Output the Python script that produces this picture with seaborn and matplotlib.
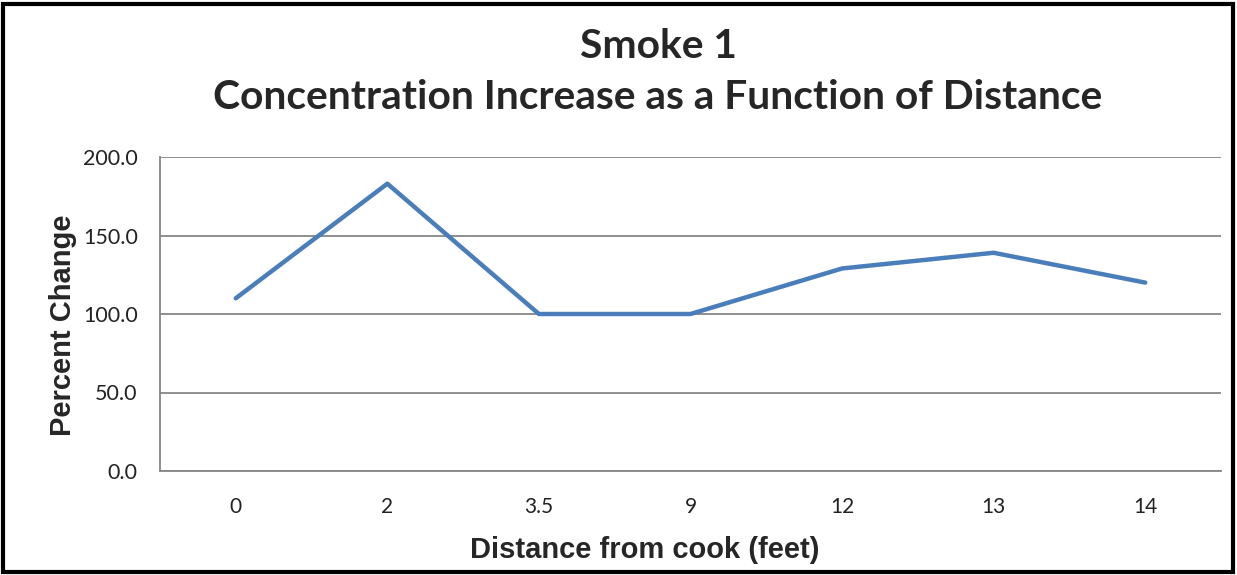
import numpy as np
import pandas as pd
import matplotlib.pyplot as plt
from matplotlib.patches import Rectangle
import seaborn as sns

# ---------- Data ----------
distance = ["0", "2", "3.5", "9", "12", "13", "14"]
pct_change = [110, 183, 100, 100, 129, 139, 120]
y_ticks = [0, 50, 100, 150, 200]

df = pd.DataFrame({"distance": distance, "pct": pct_change})

sns.set_style("white")
W, H = 1237, 575
fig = plt.figure(figsize=(W / 100, H / 100), dpi=100)
ax = fig.add_axes([160 / W, 1 - 471 / H, (1221 - 160) / W, (471 - 157) / H])

sns.lineplot(data=df, x="distance", y="pct", sort=False, color="#4a7ebb",
             linewidth=3.2, ax=ax)

ax.set_xlim(-0.5, len(distance) - 0.5)
ax.set_ylim(0, 200)
ax.set_yticks(y_ticks)
ax.set_yticklabels([f"{v:.1f}" for v in y_ticks], fontsize=15.5, family="Lato",
                   color="#222222")
ax.tick_params(axis="y", length=8, width=1.2, color="#868686", pad=8)
ax.set_xticks(range(len(distance)))
ax.set_xticklabels(distance, fontsize=15, family="Lato", color="#222222")
ax.set_xticks(np.arange(-0.5, len(distance), 1), minor=True)
ax.tick_params(axis="x", which="major", length=0, pad=19)
ax.tick_params(axis="x", which="minor", length=6, width=1.2, color="#868686")

ax.grid(axis="y", color="#868686", linewidth=1.3)
ax.set_axisbelow(True)
for s in ["top", "right"]:
    ax.spines[s].set_visible(False)
for s in ["left", "bottom"]:
    ax.spines[s].set_color("#868686")
    ax.spines[s].set_linewidth(1.3)

ax.set_xlabel("Distance from cook (feet)", fontsize=21, fontweight="bold",
              family="Liberation Sans")
ax.set_ylabel("Percent Change", fontsize=21, fontweight="bold",
              family="Liberation Sans")
ax.xaxis.set_label_coords((645 - 160) / 1061, (471 - 536) / 314)
ax.yaxis.set_label_coords((77 - 160) / 1061, (471 - 325) / 314)

fig.text(658 / W, 1 - 47 / H, "Smoke 1", ha="center", va="center",
         fontsize=29.3, fontweight="bold", family="Lato")
fig.text(658 / W, 1 - 98 / H, "Concentration Increase as a Function of Distance",
         ha="center", va="center", fontsize=29.3, fontweight="bold", family="Lato")

fig.patches.append(Rectangle((3 / W, 3 / H), 1 - 7 / W, 1 - 7 / H,
                             transform=fig.transFigure, fill=False,
                             edgecolor="black", linewidth=3))

fig.savefig("out.png", dpi=100)
